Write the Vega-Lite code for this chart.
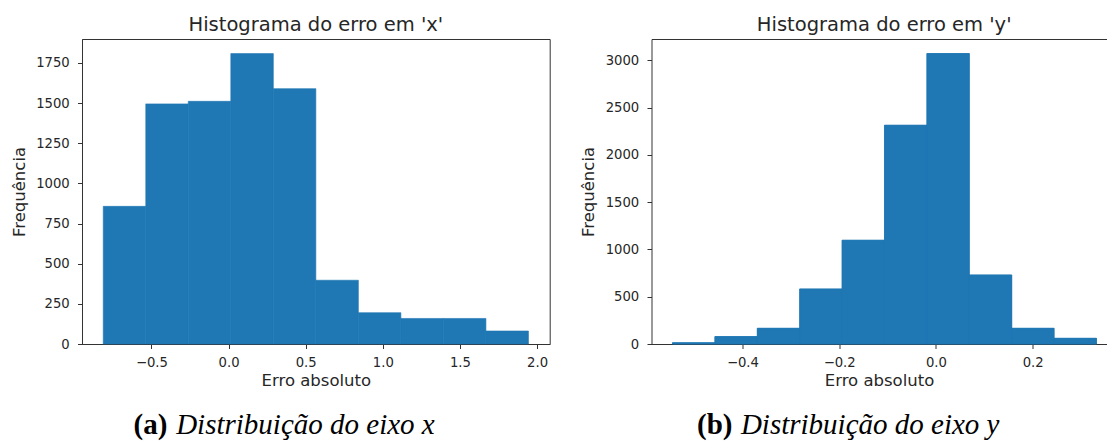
{
  "$schema": "https://vega.github.io/schema/vega-lite/v6.json",
  "background": "white",
  "padding": {"left": 10, "top": 14, "right": 0, "bottom": 0},
  "autosize": {"type": "pad"},
  "spacing": 29.5,
  "config": {
    "font": "DejaVu Sans",
    "view": {"stroke": "#333333", "strokeWidth": 1},
    "axis": {
      "grid": false,
      "labelFont": "DejaVu Sans",
      "labelFontSize": 13.2,
      "labelColor": "#262626",
      "titleFont": "DejaVu Sans",
      "titleFontSize": 16.5,
      "titleFontWeight": "normal",
      "titleColor": "#262626",
      "domainColor": "#333333",
      "domainWidth": 1,
      "tickColor": "#333333",
      "tickWidth": 1,
      "tickSize": 4.5
    },
    "axisX": {"labelPadding": 7.5, "titlePadding": 4},
    "axisY": {"labelPadding": 8.3, "titlePadding": 8.5},
    "title": {"font": "DejaVu Sans", "fontWeight": "normal", "color": "#262626"}
  },
  "datasets": {
    "errx": [
      {"x0": -0.812, "x1": -0.5364, "count": 857},
      {"x0": -0.5364, "x1": -0.2608, "count": 1495},
      {"x0": -0.2608, "x1": 0.0148, "count": 1511},
      {"x0": 0.0148, "x1": 0.2904, "count": 1808},
      {"x0": 0.2904, "x1": 0.566, "count": 1590},
      {"x0": 0.566, "x1": 0.8416, "count": 397},
      {"x0": 0.8416, "x1": 1.1172, "count": 195},
      {"x0": 1.1172, "x1": 1.3928, "count": 159},
      {"x0": 1.3928, "x1": 1.6684, "count": 159},
      {"x0": 1.6684, "x1": 1.944, "count": 81}
    ],
    "erry": [
      {"x0": -0.5445, "x1": -0.4569, "count": 14},
      {"x0": -0.4569, "x1": -0.3692, "count": 78},
      {"x0": -0.3692, "x1": -0.2816, "count": 166},
      {"x0": -0.2816, "x1": -0.1939, "count": 582},
      {"x0": -0.1939, "x1": -0.1063, "count": 1097},
      {"x0": -0.1063, "x1": -0.0186, "count": 2313},
      {"x0": -0.0186, "x1": 0.069, "count": 3071},
      {"x0": 0.069, "x1": 0.1567, "count": 730},
      {"x0": 0.1567, "x1": 0.2443, "count": 166},
      {"x0": 0.2443, "x1": 0.332, "count": 60}
    ]
  },
  "hconcat": [
    {
      "title": {"text": "(a)", "orient": "bottom", "anchor": "middle", "font": "Liberation Serif", "fontSize": 29, "fontWeight": "bold", "fontStyle": "normal", "color": "#000000", "baseline": "alphabetic", "offset": 0, "dx": -130, "dy": -6},
      "vconcat": [
        {
          "title": {"text": "Distribuição do eixo x", "orient": "bottom", "anchor": "middle", "font": "Liberation Serif", "fontSize": 29, "fontStyle": "italic", "fontWeight": "normal", "color": "#000000", "baseline": "alphabetic", "offset": 45, "dx": 25},
          "vconcat": [
            {
              "title": {"text": "Histograma do erro em 'x'", "fontSize": 19.5, "anchor": "middle", "frame": "group", "baseline": "alphabetic", "offset": -11},
              "width": 467.7,
              "height": 305,
              "data": {"name": "errx"},
              "mark": {"type": "bar", "color": "#1f77b4", "stroke": "#1f77b4", "strokeWidth": 0.6},
              "encoding": {
                "x": {"field": "x0", "type": "quantitative", "title": "Erro absoluto",
                  "scale": {"domain": [-0.9498, 2.0818], "nice": false, "zero": false},
                  "axis": {"values": [-0.5, 0, 0.5, 1, 1.5, 2], "format": ".1f"}},
                "x2": {"field": "x1"},
                "y": {"field": "count", "type": "quantitative", "title": "Frequência",
                  "scale": {"domain": [0, 1899], "nice": false},
                  "axis": {"values": [0, 250, 500, 750, 1000, 1250, 1500, 1750], "format": "d"}},
                "y2": {"datum": 0}
              }
            }
          ]
        }
      ]
    },
    {
      "title": {"text": "(b)", "orient": "bottom", "anchor": "middle", "font": "Liberation Serif", "fontSize": 29, "fontWeight": "bold", "fontStyle": "normal", "color": "#000000", "baseline": "alphabetic", "offset": 0, "dx": -128.8, "dy": -6},
      "vconcat": [
        {
          "title": {"text": "Distribuição do eixo y", "orient": "bottom", "anchor": "middle", "font": "Liberation Serif", "fontSize": 29, "fontStyle": "italic", "fontWeight": "normal", "color": "#000000", "baseline": "alphabetic", "offset": 45, "dx": 26.6},
          "vconcat": [
            {
              "title": {"text": "Histograma do erro em 'y'", "fontSize": 19.5, "anchor": "middle", "frame": "group", "baseline": "alphabetic", "offset": -11, "dx": 5.2},
              "width": 455,
              "height": 305,
              "view": {"stroke": null},
              "data": {"name": "erry"},
              "resolve": {"axis": {"x": "independent"}},
              "layer": [
                {
                  "mark": {"type": "bar", "color": "#1f77b4", "stroke": "#1f77b4", "strokeWidth": 0.6},
                  "encoding": {
                    "x": {"field": "x0", "type": "quantitative", "title": "Erro absoluto",
                      "scale": {"domain": [-0.588, 0.3527], "nice": false, "zero": false},
                      "axis": {"values": [-0.4, -0.2, 0, 0.2], "format": ".1f"}},
                    "x2": {"field": "x1"},
                    "y": {"field": "count", "type": "quantitative", "title": "Frequência",
                      "scale": {"domain": [0, 3225], "nice": false},
                      "axis": {"values": [0, 500, 1000, 1500, 2000, 2500, 3000], "format": "d"}},
                    "y2": {"datum": 0}
                  }
                },
                {
                  "mark": {"type": "bar", "color": "#1f77b4", "stroke": "#1f77b4", "strokeWidth": 0.6},
                  "encoding": {
                    "x": {"field": "x0", "type": "quantitative",
                      "axis": {"orient": "top", "labels": false, "ticks": false, "title": null, "domain": true}},
                    "x2": {"field": "x1"},
                    "y": {"field": "count", "type": "quantitative"},
                    "y2": {"datum": 0}
                  }
                }
              ]
            }
          ]
        }
      ]
    }
  ]
}
